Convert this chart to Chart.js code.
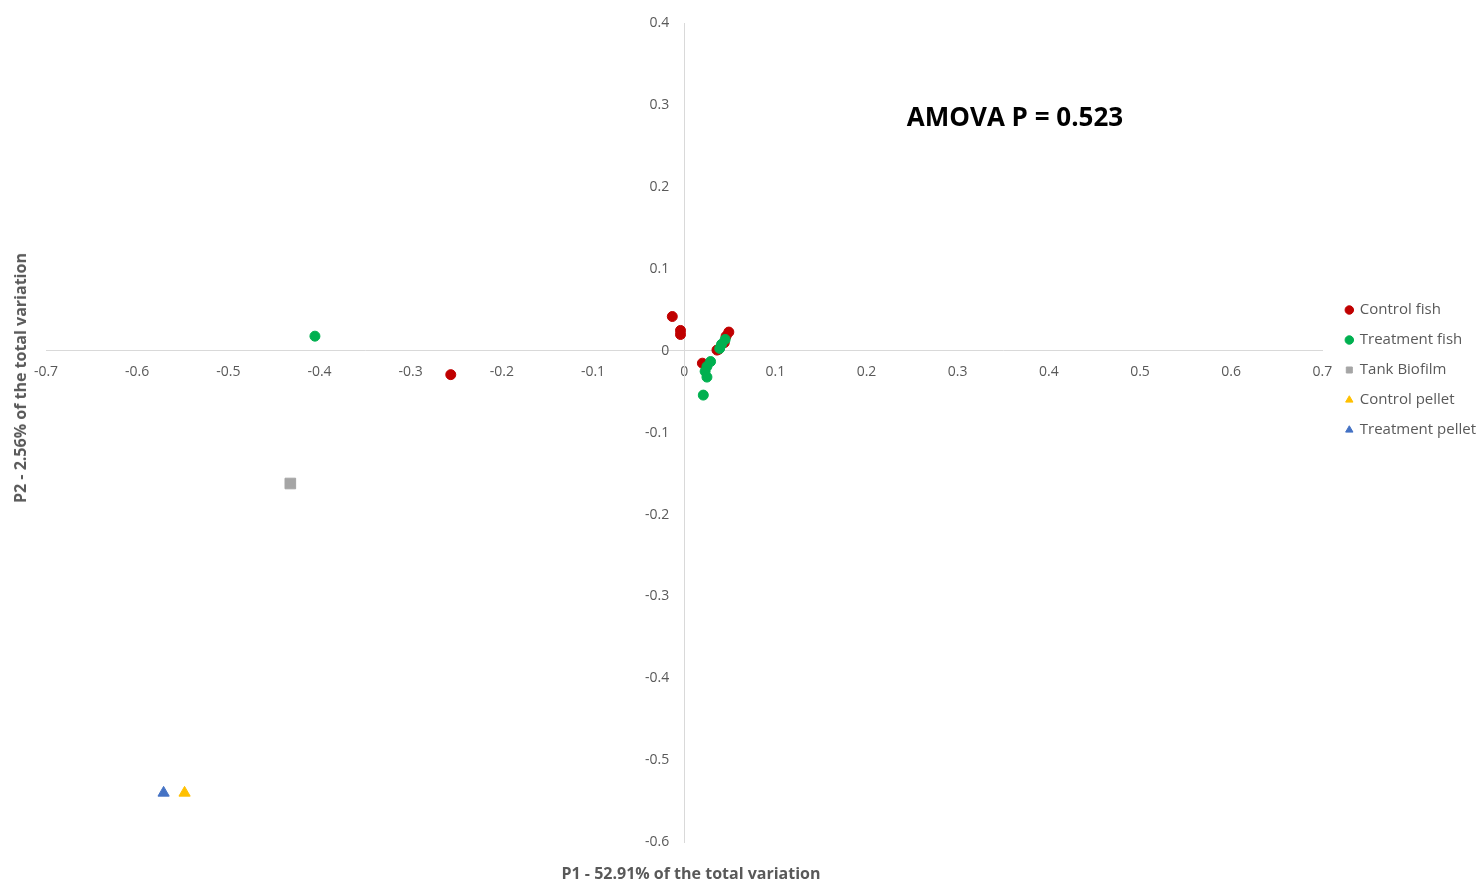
<!DOCTYPE html>
<html>
<head>
<meta charset="utf-8">
<title>PCoA</title>
<script src="https://cdn.jsdelivr.net/npm/chart.js@4.4.0/dist/chart.umd.min.js"></script>
<style>
  html, body { margin: 0; padding: 0; background: #fff; overflow: hidden; }
  #wrap { position: relative; width: 1483px; height: 879px; }
  .txt { position: absolute; font-family: "Open Sans", sans-serif; white-space: nowrap; }
  #ytitle { left: 20px; top: 378px; transform: translate(-50%, -50%) rotate(-90deg); font-weight: bold; font-size: 16px; color: #595959; }
  #xtitle { left: 691px; top: 862px; transform: translateX(-50%); font-weight: bold; font-size: 16px; color: #595959; line-height: normal; }
  #note { left: 1015px; top: 116px; transform: translate(-50%, -50%); font-weight: bold; font-size: 26px; color: #000; }
</style>
</head>
<body>
<div id="wrap">
  <canvas id="pcoaChart"></canvas>
  <div class="txt" id="ytitle">P2 - 2.56% of the total variation</div>
  <div class="txt" id="xtitle">P1 - 52.91% of the total variation</div>
  <div class="txt" id="note">AMOVA P = 0.523</div>
</div>
<script>
// series names
const seriesNames = ["Control fish", "Treatment fish", "Tank Biofilm", "Control pellet", "Treatment pellet"];

// coordinates
const controlFishX = [-0.256, -0.013, -0.004, -0.004, 0.049, 0.046, 0.044, 0.038, 0.036, 0.020];
const controlFishY = [-0.029, 0.042, 0.025, 0.020, 0.023, 0.018, 0.010, 0.002, 0.001, -0.015];

const treatmentFishX = [-0.405, 0.045, 0.041, 0.039, 0.029, 0.025, 0.023, 0.025, 0.021];
const treatmentFishY = [0.018, 0.014, 0.008, 0.003, -0.013, -0.019, -0.025, -0.032, -0.054];

const biofilmX = [-0.432];
const biofilmY = [-0.162];

const controlPelletX = [-0.548];
const controlPelletY = [-0.540];

const treatmentPelletX = [-0.571];
const treatmentPelletY = [-0.540];

// tick labels
const xTickValues = [-0.7, -0.6, -0.5, -0.4, -0.3, -0.2, -0.1, 0, 0.1, 0.2, 0.3, 0.4, 0.5, 0.6, 0.7];
const xTickLabels = ["-0.7", "-0.6", "-0.5", "-0.4", "-0.3", "-0.2", "-0.1", "0", "0.1", "0.2", "0.3", "0.4", "0.5", "0.6", "0.7"];
const yTickValues = [-0.6, -0.5, -0.4, -0.3, -0.2, -0.1, 0, 0.1, 0.2, 0.3, 0.4];
const yTickLabels = ["-0.6", "-0.5", "-0.4", "-0.3", "-0.2", "-0.1", "0", "0.1", "0.2", "0.3", "0.4"];

function toPoints(xs, ys) {
  return xs.map((x, i) => ({ x: x, y: ys[i] }));
}

// y labels on a centred axis sit right on the line, push them left a bit
const yLabelGap = {
  id: "yLabelGap",
  afterLayout(chart) {
    // legend sits flush to the plot, Excel leaves a small gap
    chart.legend.left += 9;
    chart.legend.right += 9;
  },
  beforeDraw(chart) {
    const items = chart.scales.y.getLabelItems();
    if (items._moved) return;
    items.forEach(item => { item.options.translation[0] -= 15; });
    items._moved = true;
  }
};

const tickFont = { family: "Open Sans", size: 14 };

const ctx = document.getElementById("pcoaChart").getContext("2d");

new Chart(ctx, {
  type: "scatter",
  data: {
    datasets: [
      {
        label: seriesNames[0],
        data: toPoints(controlFishX, controlFishY),
        backgroundColor: "#C00000",
        borderColor: "#C00000",
        borderWidth: 1,
        pointStyle: "circle",
        pointRadius: 5,
        order: 1
      },
      {
        label: seriesNames[1],
        data: toPoints(treatmentFishX, treatmentFishY),
        backgroundColor: "#00B050",
        borderColor: "#00B050",
        borderWidth: 1,
        pointStyle: "circle",
        pointRadius: 5,
        order: 0
      },
      {
        label: seriesNames[2],
        data: toPoints(biofilmX, biofilmY),
        backgroundColor: "#A5A5A5",
        borderColor: "#A5A5A5",
        borderWidth: 1,
        pointStyle: "rect",
        pointRadius: 7.5,
        order: 2
      },
      {
        label: seriesNames[3],
        data: toPoints(controlPelletX, controlPelletY),
        backgroundColor: "#FFC000",
        borderColor: "#FFC000",
        borderWidth: 1,
        pointStyle: "triangle",
        pointRadius: 6.5,
        order: 3
      },
      {
        label: seriesNames[4],
        data: toPoints(treatmentPelletX, treatmentPelletY),
        backgroundColor: "#4472C4",
        borderColor: "#4472C4",
        borderWidth: 1,
        pointStyle: "triangle",
        pointRadius: 6.5,
        order: 4
      }
    ]
  },
  options: {
    responsive: true,
    maintainAspectRatio: false,
    animation: false,
    layout: {
      padding: { left: 46, top: 23.5, bottom: 37, right: 6 }
    },
    scales: {
      x: {
        type: "linear",
        min: -0.7,
        max: 0.7,
        position: { y: 0 },
        afterBuildTicks: (scale) => {
          scale.ticks = xTickValues.map(v => ({ value: v }));
        },
        grid: { display: false, drawTicks: false },
        border: { display: true, color: "#D9D9D9", width: 1 },
        ticks: {
          autoSkip: false,
          maxRotation: 0,
          padding: 13,
          color: "#595959",
          font: tickFont,
          callback: (value, index) => xTickLabels[index]
        }
      },
      y: {
        type: "linear",
        min: -0.6,
        max: 0.4,
        position: { x: 0 },
        afterBuildTicks: (scale) => {
          scale.ticks = yTickValues.map(v => ({ value: v }));
        },
        grid: { display: false, drawTicks: false },
        border: { display: true, color: "#D9D9D9", width: 1 },
        ticks: {
          autoSkip: false,
          padding: 0,
          color: "#595959",
          font: tickFont,
          callback: (value, index) => yTickLabels[index]
        }
      }
    },
    plugins: {
      tooltip: { enabled: false },
      legend: {
        position: "right",
        align: "start",
        title: {
          display: true,
          text: "",
          font: { size: 10, lineHeight: 1 },
          padding: { top: 254, bottom: 0 }
        },
        labels: {
          usePointStyle: true,
          boxWidth: 6,
          boxHeight: 6,
          padding: 15,
          color: "#595959",
          font: { family: "Open Sans", size: 15 },
          sort: (a, b) => a.datasetIndex - b.datasetIndex
        }
      }
    }
  },
  plugins: [yLabelGap]
});
</script>
</body>
</html>
